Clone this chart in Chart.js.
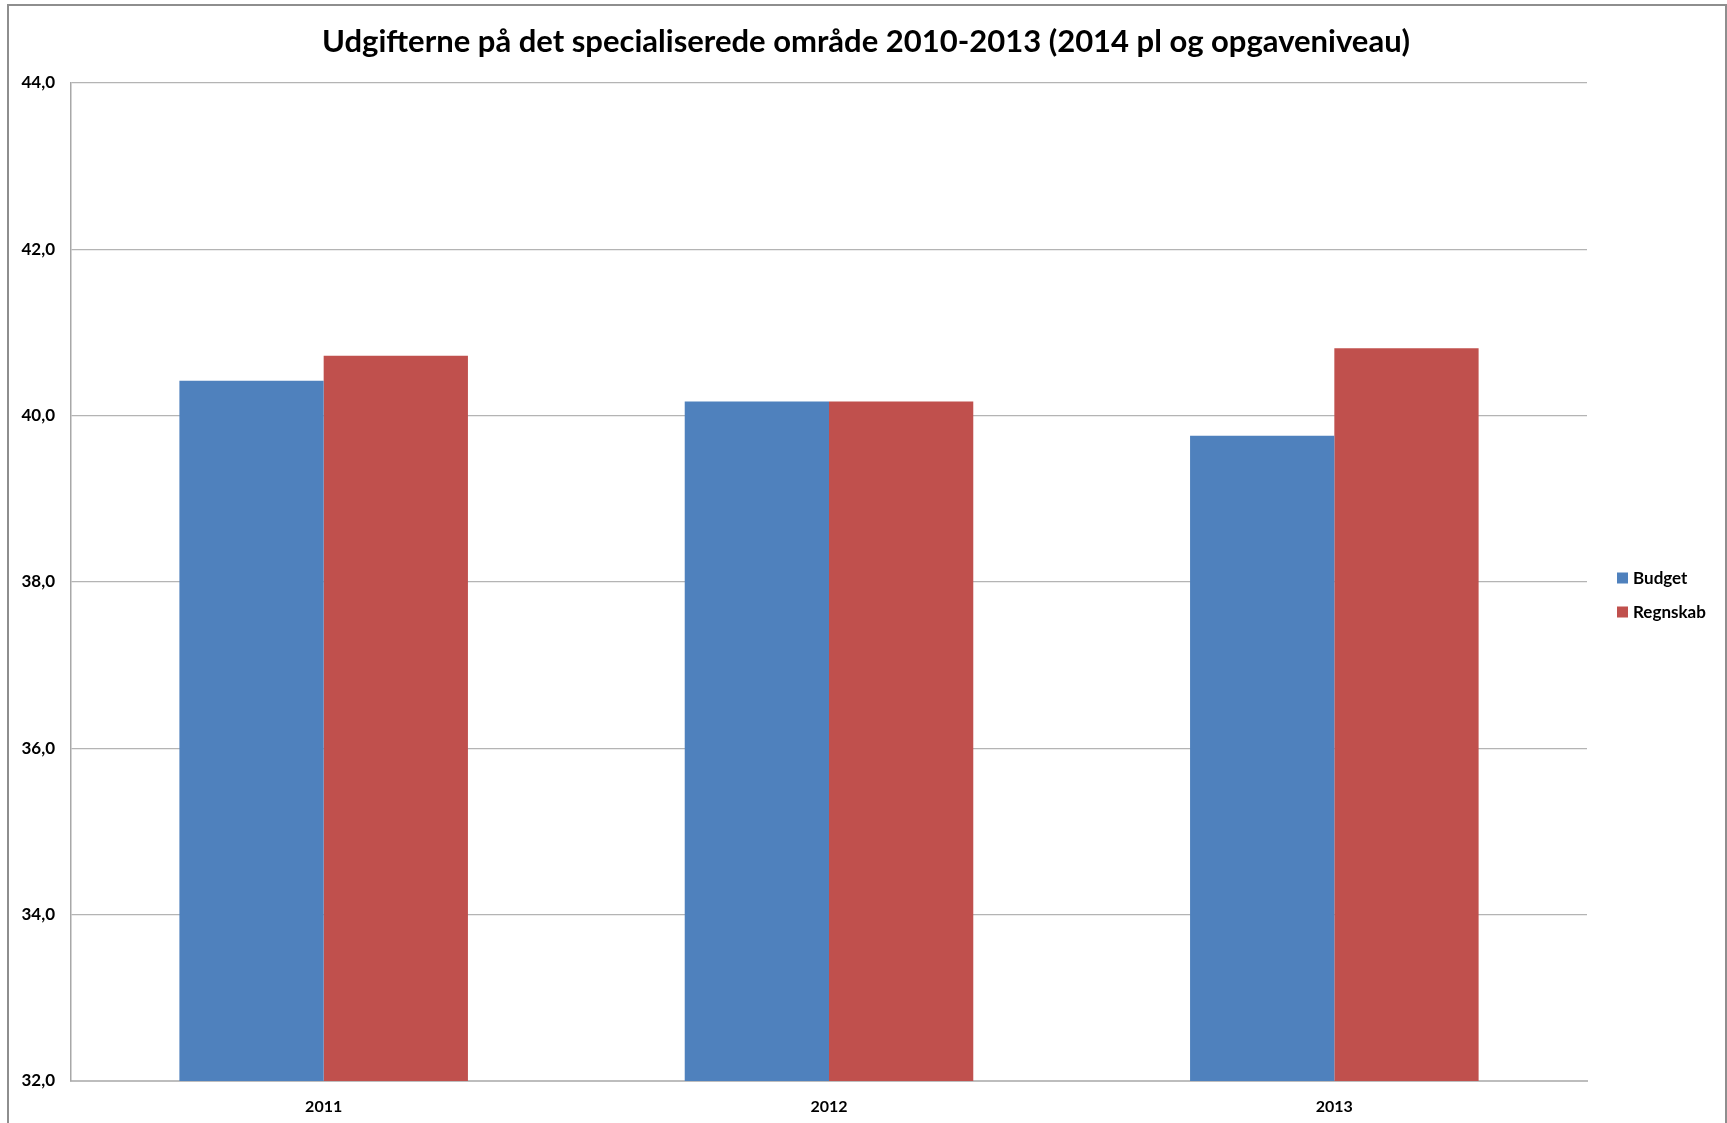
<!DOCTYPE html>
<html>
<head>
<meta charset="utf-8">
<script src="https://cdn.jsdelivr.net/npm/chart.js@4/dist/chart.umd.min.js"></script>
<style>
  html, body { margin: 0; padding: 0; background: #ffffff; }
  #wrap { position: relative; width: 1727px; height: 1123px; overflow: hidden; }
  #frame { position: absolute; left: 7px; top: 4px; width: 1716px; height: 1200px; border: 2px solid #8e8e8e; }
  canvas { position: absolute; left: 0; top: 0; }
</style>
</head>
<body>
<div id="wrap">
  <div id="frame"></div>
  <canvas id="c" width="1727" height="1123"></canvas>
</div>
<script>
const titleText = 'Udgifterne på det specialiserede område 2010-2013 (2014 pl og opgaveniveau)';
const categories = ['2011', '2012', '2013'];
const seriesNames = ['Budget', 'Regnskab'];
const budget = [40.42, 40.17, 39.76];
const regnskab = [40.72, 40.17, 40.81];
const yMin = 32;
const yMax = 44;
const yStep = 2;
const seriesColors = ['#4F81BD', '#C0504D'];

const FONT = 'Lato, "Open Sans", sans-serif';

const overlay = {
  id: 'overlay',
  afterDraw(chart) {
    const ctx = chart.ctx;
    ctx.save();
    ctx.fillStyle = '#000000';
    ctx.font = 'bold 31px ' + FONT;
    ctx.textAlign = 'center';
    ctx.textBaseline = 'middle';
    ctx.fillText(titleText, 866, 42);
    // legend
    const items = chart.data.datasets;
    const ys = [578, 612];
    ctx.font = 'bold 17px ' + FONT;
    ctx.textAlign = 'left';
    items.forEach((ds, i) => {
      ctx.fillStyle = ds.backgroundColor;
      ctx.fillRect(1617, ys[i] - 5.5, 11, 11);
      ctx.fillStyle = '#000000';
      ctx.fillText(ds.label, 1633, ys[i] + 1);
    });
    ctx.restore();
  }
};

new Chart(document.getElementById('c'), {
  type: 'bar',
  data: {
    labels: categories,
    datasets: [
      { label: seriesNames[0], data: budget, backgroundColor: seriesColors[0] },
      { label: seriesNames[1], data: regnskab, backgroundColor: seriesColors[1] }
    ]
  },
  options: {
    responsive: false,
    animation: false,
    devicePixelRatio: 1,
    layout: { padding: { left: 0, right: 140, top: 83, bottom: 0 } },
    datasets: { bar: { categoryPercentage: 0.571, barPercentage: 1.0 } },
    plugins: { legend: { display: false }, title: { display: false }, tooltip: { enabled: false } },
    scales: {
      x: {
        grid: { display: false, drawTicks: false },
        border: { display: true, color: '#bdbdbd', width: 2 },
        ticks: { color: '#000000', font: { family: FONT, size: 16, weight: 'bold' }, padding: 16 },
        afterFit(s) { s.height = 42; }
      },
      y: {
        min: yMin, max: yMax,
        grid: { color: '#b4b4b4', lineWidth: 1.2, drawTicks: false },
        border: { display: true, color: '#a8a8a8', width: 1.5 },
        ticks: {
          stepSize: yStep,
          color: '#000000',
          font: { family: FONT, size: 17, weight: 'bold' },
          padding: 16,
          callback: (v) => v.toFixed(1).replace('.', ',')
        },
        afterFit(s) { s.width = 71; }
      }
    }
  },
  plugins: [overlay]
});
</script>
</body>
</html>
